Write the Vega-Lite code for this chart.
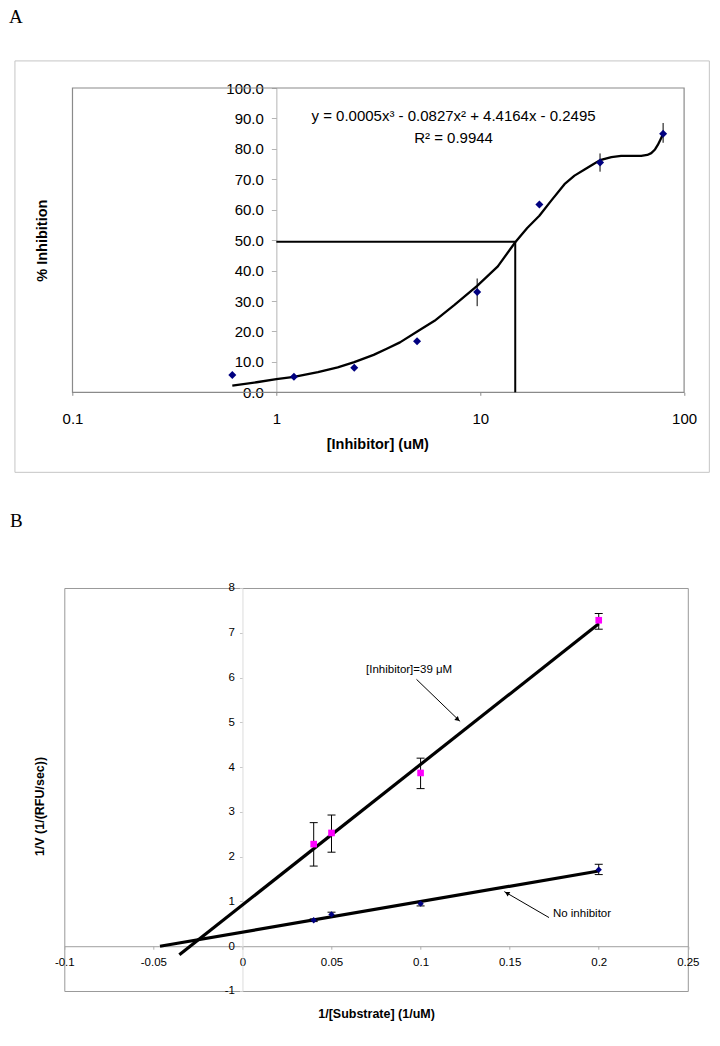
{
  "$schema": "https://vega.github.io/schema/vega-lite/v6.json",
  "background": "white",
  "padding": {"left": 8.3, "top": 8, "right": 0, "bottom": 0},
  "config": {
    "font": "Liberation Sans",
    "view": {"stroke": null},
    "axis": {"grid": false, "labelFont": "Liberation Sans", "titleFont": "Liberation Sans", "labelColor": "#000", "titleColor": "#000", "labelOverlap": false, "labelFlush": false, "labelBound": false},
    "title": {"font": "Liberation Serif", "fontWeight": "normal", "color": "#000", "anchor": "start", "frame": "group"}
  },
  "datasets": {
    "a_pts": [
      {"x": 0.608, "y": 5.7},
      {"x": 1.22, "y": 5.1},
      {"x": 2.41, "y": 8.1},
      {"x": 4.9, "y": 16.8},
      {"x": 9.66, "y": 33.0, "lo": 28.3, "hi": 37.4},
      {"x": 19.5, "y": 61.7},
      {"x": 38.7, "y": 75.5, "lo": 72.5, "hi": 78.5},
      {"x": 78.9, "y": 85.0, "lo": 82.0, "hi": 88.5}
    ],
    "a_curve": [
      {"x": 0.608, "y": 2.2}, {"x": 0.8, "y": 3.3}, {"x": 1.0, "y": 4.3}, {"x": 1.22, "y": 5.1},
      {"x": 1.6, "y": 6.6}, {"x": 2.0, "y": 8.2}, {"x": 2.41, "y": 9.9}, {"x": 3.0, "y": 12.3},
      {"x": 3.5, "y": 14.4}, {"x": 4.04, "y": 16.4}, {"x": 5.0, "y": 20.3}, {"x": 5.97, "y": 23.5},
      {"x": 7.48, "y": 28.7}, {"x": 9.66, "y": 35.0}, {"x": 12.2, "y": 41.4}, {"x": 14.85, "y": 49.3},
      {"x": 17.0, "y": 54.0}, {"x": 19.5, "y": 58.0}, {"x": 22.3, "y": 63.0}, {"x": 25.9, "y": 68.4},
      {"x": 29.0, "y": 71.2}, {"x": 32.5, "y": 73.2}, {"x": 35.5, "y": 74.8}, {"x": 38.7, "y": 76.3},
      {"x": 44.0, "y": 77.3}, {"x": 49.1, "y": 77.7}, {"x": 55.0, "y": 77.7}, {"x": 61.6, "y": 77.7},
      {"x": 66.0, "y": 78.0}, {"x": 69.0, "y": 78.6}, {"x": 72.0, "y": 79.8}, {"x": 74.3, "y": 81.3},
      {"x": 76.5, "y": 83.0}, {"x": 78.7, "y": 84.7}
    ],
    "a_ic50": [
      {"x": 1, "x2": 14.85, "y": 49.5, "y2": 49.5},
      {"x": 14.85, "x2": 14.85, "y": 0, "y2": 49.5}
    ],
    "a_text": [
      {"x": 7.4, "y": 90.8, "label": "y = 0.0005x³ - 0.0827x² + 4.4164x - 0.2495"},
      {"x": 7.4, "y": 83.5, "label": "R² = 0.9944"}
    ],
    "b_pts": [
      {"series": "inh", "x": 0.04, "y": 2.28, "lo": 1.79, "hi": 2.76},
      {"series": "inh", "x": 0.05, "y": 2.53, "lo": 2.1, "hi": 2.93},
      {"series": "inh", "x": 0.1, "y": 3.87, "lo": 3.52, "hi": 4.2},
      {"series": "inh", "x": 0.2, "y": 7.28, "lo": 7.08, "hi": 7.43},
      {"series": "none", "x": 0.04, "y": 0.58, "lo": 0.55, "hi": 0.61},
      {"series": "none", "x": 0.05, "y": 0.71, "lo": 0.66, "hi": 0.76},
      {"series": "none", "x": 0.1, "y": 0.95, "lo": 0.9, "hi": 1.0},
      {"series": "none", "x": 0.2, "y": 1.71, "lo": 1.6, "hi": 1.83}
    ],
    "b_lines": [
      {"series": "inh", "x": -0.0354, "y": -0.19},
      {"series": "inh", "x": 0.2, "y": 7.2},
      {"series": "none", "x": -0.0463, "y": 0.0},
      {"series": "none", "x": 0.2, "y": 1.68}
    ],
    "b_arrows": [
      {"arrow": "inh", "x": 0.0977, "y": 5.96, "x2": 0.1222, "y2": 5.02, "hx": 0.1209, "hy": 5.065},
      {"arrow": "none", "x": 0.1721, "y": 0.64, "x2": 0.147, "y2": 1.22, "hx": 0.1485, "hy": 1.187}
    ],
    "b_text": [
      {"x": 0.0694, "y": 6.16, "label": "[Inhibitor]=39 μM"},
      {"x": 0.1743, "y": 0.73, "label": "No inhibitor"}
    ]
  },
  "spacing": 38,
  "vconcat": [
    {
      "title": {"text": "A", "fontSize": 19, "dx": -55.2, "offset": 33},
      "width": 619.8,
      "height": 304.3,
      "layer": [
        {
          "data": {"name": "a_curve"},
          "mark": {"type": "line", "color": "#000", "strokeWidth": 2.3, "strokeJoin": "round"},
          "encoding": {
            "x": {
              "field": "x", "type": "quantitative",
              "scale": {"type": "log", "domain": [0.09117, 100], "nice": false},
              "axis": {
                "values": [0.1, 1, 10, 100], "labelExpr": "toString(datum.value)",
                "domain": false, "ticks": true, "tickSize": 3, "tickColor": "#8a8a8a",
                "labelFontSize": 15, "labelPadding": 16,
                "title": "[Inhibitor] (uM)", "titleFontSize": 14.5, "titleFontWeight": "bold",
                "titleX": 313, "titleY": 51.7, "titleBaseline": "middle", "titleAlign": "center"
              }
            },
            "y": {
              "field": "y", "type": "quantitative",
              "scale": {"domain": [0, 100], "nice": false, "zero": false},
              "axis": {
                "values": [0, 10, 20, 30, 40, 50, 60, 70, 80, 90, 100], "tickCount": 11, "labelExpr": "format(datum.value, '.1f')",
                "offset": -212.07, "domain": true, "domainColor": "#b4b4b4",
                "tickSize": 5, "tickColor": "#b4b4b4",
                "labelFontSize": 15, "labelPadding": 8,
                "title": "% Inhibition", "titleFontSize": 14.5, "titleFontWeight": "bold",
                "titleX": -233.6, "titleBaseline": "middle", "titleAngle": 270, "titleAlign": "center"
              }
            }
          }
        },
        {
          "data": {"values": [{}]},
          "mark": {"type": "rect", "fill": "transparent", "stroke": "#c6c6c6", "strokeWidth": 1, "clip": false},
          "encoding": {
            "x": {"datum": 0.0522, "type": "quantitative"},
            "x2": {"datum": 133},
            "y": {"datum": 108.9, "type": "quantitative", "axis": {"values": [0, 10, 20, 30, 40, 50, 60, 70, 80, 90, 100], "tickCount": 11}},
            "y2": {"datum": -26.3}
          }
        },
        {
          "data": {"values": [{}]},
          "mark": {"type": "rect", "fill": "transparent", "stroke": "#8a8a8a", "strokeWidth": 1.2},
          "encoding": {
            "x": {"datum": 0.1, "type": "quantitative"},
            "x2": {"datum": 100},
            "y": {"datum": 100, "type": "quantitative", "axis": {"values": [0, 10, 20, 30, 40, 50, 60, 70, 80, 90, 100], "tickCount": 11}},
            "y2": {"datum": 0}
          }
        },
        {
          "data": {"name": "a_ic50"},
          "mark": {"type": "rule", "color": "#000", "strokeWidth": 2},
          "encoding": {
            "x": {"field": "x", "type": "quantitative"},
            "x2": {"field": "x2"},
            "y": {"field": "y", "type": "quantitative"},
            "y2": {"field": "y2"}
          }
        },
        {
          "data": {"name": "a_pts"},
          "mark": {"type": "rule", "color": "#000", "strokeWidth": 1},
          "encoding": {
            "x": {"field": "x", "type": "quantitative"},
            "y": {"field": "lo", "type": "quantitative"},
            "y2": {"field": "hi"}
          }
        },
        {
          "data": {"name": "a_pts"},
          "mark": {"type": "point", "shape": "diamond", "filled": true, "color": "#000080", "size": 64, "opacity": 1},
          "encoding": {
            "x": {"field": "x", "type": "quantitative"},
            "y": {"field": "y", "type": "quantitative"}
          }
        },
        {
          "data": {"name": "a_text"},
          "mark": {"type": "text", "fontSize": 15, "align": "center", "baseline": "middle", "color": "#000", "font": "Liberation Sans"},
          "encoding": {
            "x": {"field": "x", "type": "quantitative"},
            "y": {"field": "y", "type": "quantitative"},
            "text": {"field": "label"}
          }
        }
      ]
    },
    {
      "title": {"text": "B", "fontSize": 19, "dx": -54.3, "offset": 51},
      "width": 623.5,
      "height": 403,
      "view": {"stroke": "#999999"},
      "encoding": {
        "x": {
          "field": "x", "type": "quantitative",
          "scale": {"domain": [-0.1, 0.25], "nice": false, "zero": false},
          "axis": {
            "values": [-0.1, -0.05, 0, 0.05, 0.1, 0.15, 0.2, 0.25], "labelExpr": "toString(datum.value)",
            "offset": -44.78, "domain": true, "domainColor": "#a0a0a0",
            "tickSize": 3, "tickColor": "#b0b0b0",
            "labelFontSize": 11.5, "labelPadding": 7,
            "title": "1/[Substrate] (1/uM)", "titleFontSize": 12.5, "titleFontWeight": "bold",
            "titleY": 67.3, "titleBaseline": "middle", "titleAlign": "center"
          }
        },
        "y": {
          "field": "y", "type": "quantitative",
          "scale": {"domain": [-1, 8], "nice": false, "zero": false},
          "axis": {
            "values": [-1, 0, 1, 2, 3, 4, 5, 6, 7, 8], "labelExpr": "toString(datum.value)",
            "offset": -178.14, "domain": true, "domainColor": "#dcdcdc",
            "tickSize": 3, "tickColor": "#c8c8c8",
            "labelFontSize": 11.5, "labelPadding": 5,
            "title": "1/V (1/(RFU/sec))", "titleFontSize": 12.5, "titleFontWeight": "bold",
            "titleX": -202.6, "titleY": 218, "titleBaseline": "middle", "titleAngle": 270, "titleAlign": "center"
          }
        }
      },
      "layer": [
        {
          "data": {"values": [{}]},
          "mark": {"type": "rect", "fill": "transparent", "stroke": "#c6c6c6", "strokeWidth": 1, "clip": false},
          "encoding": {
            "x": {"datum": -0.1283, "type": "quantitative"},
            "x2": {"datum": 0.2629},
            "y": {"datum": 8.486, "type": "quantitative"},
            "y2": {"datum": -2.039}
          }
        },
        {
          "data": {"name": "b_lines"},
          "mark": {"type": "line", "color": "#000", "strokeWidth": 3.2, "clip": false},
          "encoding": {"detail": {"field": "series"}}
        },
        {
          "data": {"name": "b_arrows"},
          "mark": {"type": "rule", "color": "#000", "strokeWidth": 1},
          "encoding": {
            "x2": {"field": "x2"},
            "y2": {"field": "y2"}
          }
        },
        {
          "data": {"name": "b_arrows"},
          "transform": [{"filter": "datum.arrow === 'inh'"}],
          "mark": {"type": "point", "shape": "triangle-up", "filled": true, "color": "#000", "size": 28, "angle": 131, "opacity": 1},
          "encoding": {
            "x": {"field": "hx", "type": "quantitative"},
            "y": {"field": "hy", "type": "quantitative"}
          }
        },
        {
          "data": {"name": "b_arrows"},
          "transform": [{"filter": "datum.arrow === 'none'"}],
          "mark": {"type": "point", "shape": "triangle-up", "filled": true, "color": "#000", "size": 28, "angle": 300, "opacity": 1},
          "encoding": {
            "x": {"field": "hx", "type": "quantitative"},
            "y": {"field": "hy", "type": "quantitative"}
          }
        },
        {
          "data": {"name": "b_pts"},
          "mark": {"type": "rule", "color": "#000", "strokeWidth": 1},
          "encoding": {
            "y": {"field": "lo", "type": "quantitative"},
            "y2": {"field": "hi"}
          }
        },
        {
          "data": {"name": "b_pts"},
          "mark": {"type": "tick", "orient": "horizontal", "color": "#000", "size": 8, "thickness": 1, "opacity": 1},
          "encoding": {
            "y": {"field": "lo", "type": "quantitative"}
          }
        },
        {
          "data": {"name": "b_pts"},
          "mark": {"type": "tick", "orient": "horizontal", "color": "#000", "size": 8, "thickness": 1, "opacity": 1},
          "encoding": {
            "y": {"field": "hi", "type": "quantitative"}
          }
        },
        {
          "data": {"name": "b_pts"},
          "transform": [{"filter": "datum.series === 'inh'"}],
          "mark": {"type": "point", "shape": "square", "filled": true, "color": "#ff00ff", "size": 44, "opacity": 1}
        },
        {
          "data": {"name": "b_pts"},
          "transform": [{"filter": "datum.series === 'none'"}],
          "mark": {"type": "point", "shape": "diamond", "filled": true, "color": "#000080", "size": 40, "opacity": 1}
        },
        {
          "data": {"name": "b_text"},
          "mark": {"type": "text", "fontSize": 11.5, "align": "left", "baseline": "middle", "color": "#000", "font": "Liberation Sans"},
          "encoding": {"text": {"field": "label"}}
        }
      ]
    }
  ]
}
